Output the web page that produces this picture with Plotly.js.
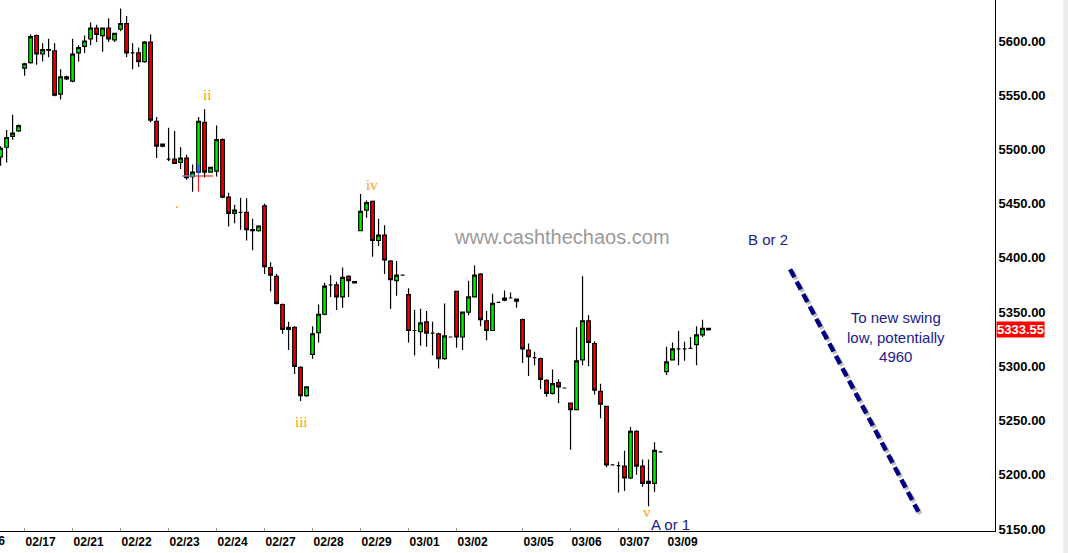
<!DOCTYPE html>
<html>
<head>
<meta charset="utf-8">
<script src="https://cdn.plot.ly/plotly-3.0.1.min.js"></script>
<style>
  html, body { margin: 0; padding: 0; background: #ffffff; overflow: hidden; }
  #chart { width: 1068px; height: 553px; }
</style>
</head>
<body>
<div id="chart"></div>
<script>
// Nifty hourly bars, mid-Feb to 9 Mar 2012
const sessionDays   = ['02/16','02/17','02/21','02/22','02/23','02/24','02/27','02/28','02/29','03/01','03/02','03/03','03/05','03/06','03/07','03/09'];
const sessionBars   = [4, 8, 8, 8, 8, 8, 8, 8, 8, 8, 8, 3, 8, 8, 8, 8];
const unlabelledDays = ['03/03'];
const BARS_PER_SESSION = 8;

const open = [
  5493,5502,5512,5517,
  5575,5580,5605,5588,5592,5591,5551,5567,
  5563,5589,5595,5602,5612,5605,5612,5601,
  5611,5616,5589,5589,5581,5599,5526,5503,
  5491,5491,5488,5492,5475,5479,5525,5479,
  5480,5509,5456,5441,5442,5442,5426,5425,
  5448,5391,5383,5357,5334,5336,5299,5273,
  5311,5331,5348,5375,5375,5364,5383,5378,
  5425,5444,5452,5416,5421,5397,5379,5384,
  5366,5333,5332,5341,5330.5,5330,5307,5327,
  5369,5327,5350,5364,5385,5342,5333,5359,
  5361,5363,5362,
  5343,5315,5308,5307,5287,5275,5285,5280,
  5266,5260,5306,5342,5321,5277,5263,5209,
  5208.4,5208,5197,5240,5208,5192,5192,5221,
  5295,5306,5316,5316,5316.5,5320,5329,5335
];
const high = [
  5503,5518,5532,5523,
  5580,5606,5606,5598,5602,5598,5574,5568,
  5602,5596,5605,5617,5615,5612,5621,5607,
  5630,5623,5598,5594,5600,5606,5530,5505,
  5520,5517,5502,5495,5486,5530,5537,5484,
  5522,5510,5460,5449,5455.5,5455,5436,5430,
  5450,5396,5385,5358,5341,5337,5300,5281,
  5337,5357,5377,5384,5378,5391,5384,5378,
  5459,5453,5453,5436,5430,5398,5397,5384,
  5372,5352,5353,5351,5341,5331,5358,5327,
  5369,5350,5379,5393,5386,5351,5367,5359,
  5370,5368,5362,
  5344,5321,5313.5,5308,5288,5297,5288,5280,
  5266,5336,5383,5347,5323,5284,5263,5209,
  5212,5222,5244,5241,5214,5214,5230,5221,
  5318,5322,5332.6,5322.7,5327,5337,5343,5335
];
const low = [
  5485,5488,5509,5516,
  5568,5579,5578,5581,5585,5549,5546,5564,
  5562,5581,5589,5596,5599,5590,5599,5599,
  5609,5585,5574,5576,5580,5525,5492,5502,
  5489,5486.5,5482,5472,5461,5478,5474,5479,
  5475,5455,5429,5432,5426,5416,5407,5424,
  5385,5369,5357,5330,5315,5293,5268,5272,
  5307,5322,5347,5364,5352,5354,5364,5377,
  5425,5437,5401,5411,5385,5353,5365,5384,
  5322,5310,5319,5318,5310,5298,5306,5327,
  5317,5315,5347,5364,5337,5324,5333,5359,
  5360,5363,5354,
  5303,5291,5301,5279,5272,5274,5266,5280,
  5223,5260,5301,5300,5274,5252,5207,5209,
  5183.5,5185,5196,5200,5189,5171,5184,5221,
  5292,5306,5301,5305,5316,5301,5327,5333
];
const close = [
  5501,5511,5515,5522,
  5579,5604,5588,5592,5591.5,5550,5567,5565,
  5588,5594,5600,5612,5606,5612,5602,5607,
  5616,5589,5589,5581,5599,5527,5503,5505,
  5491,5487,5492,5474,5479,5526,5479,5483.5,
  5509,5456,5441,5444,5442,5426,5425,5429.4,
  5392,5384,5358,5334,5336,5300,5273,5281,
  5330,5348,5374,5375,5364,5382,5379,5377,
  5443,5451,5416,5421,5398,5380,5384,5384,
  5333,5333,5340,5330.5,5330.5,5307,5328,5327,
  5327,5350,5364,5384,5343,5333,5358,5359,
  5363,5363,5360,
  5316,5309,5308,5288,5275,5284,5281,5280,
  5260,5305,5342,5322,5278,5265,5209,5209,
  5208.4,5197,5240,5208,5192,5194,5222.5,5221,
  5304,5316,5316,5316,5316.5,5329,5335,5333.55
];

const priceTicks = [5150, 5200, 5250, 5300, 5350, 5400, 5450, 5500, 5550, 5600];

// ---- bar index positions and session start ticks ----
const barIndex = open.map((_, i) => i);
const sessionStart = [];
let acc = 0;
sessionBars.forEach((n, k) => {
  // the first session is only partly on screen
  sessionStart.push(k === 0 ? n - BARS_PER_SESSION : acc);
  acc += n;
});

const X_RANGE = [-0.1, 165.75];
const Y_RANGE = [5148.1, 5637.8];

const tickVals = [], tickText = [];
sessionDays.forEach((d, k) => {
  if (sessionStart[k] >= X_RANGE[0] && unlabelledDays.indexOf(d) < 0) {
    tickVals.push(sessionStart[k]);
    tickText.push(d);
  }
});

const lastClose = close[close.length - 1];

const tickFont = { family: 'Liberation Sans, Arial, sans-serif', size: 12, color: '#000000', weight: 'bold' };
const waveFont = { family: 'Liberation Serif, Times New Roman, serif', size: 15, color: '#ffa000' };
const noteFont = { family: 'Liberation Sans, Arial, sans-serif', size: 15, color: '#20208c' };

const candles = {
  type: 'candlestick',
  x: barIndex,
  open: open, high: high, low: low, close: close,
  increasing: { line: { color: '#000000', width: 1.2 }, fillcolor: '#00f000' },
  decreasing: { line: { color: '#000000', width: 1.2 }, fillcolor: '#f00000' },
  whiskerwidth: 0,
  hoverinfo: 'skip',
  showlegend: false
};

// paper x for a bar index (used for the clipped first date label)
const toPaperX = idx => (idx - X_RANGE[0]) / (X_RANGE[1] - X_RANGE[0]);

const annotations = [
  // clipped date label of the first, partly visible session
  { xref: 'paper', yref: 'paper', x: toPaperX(sessionStart[0]), y: 0, xanchor: 'left', yanchor: 'top',
    xshift: -4, yshift: -1, text: sessionDays[0], showarrow: false, font: tickFont },
  // wave counts
  { x: 34.4,  y: 5550,   text: 'ii',  showarrow: false, font: waveFont },
  { x: 29.4,  y: 5451,   text: '.',   showarrow: false, font: waveFont },
  { x: 50.1,  y: 5248.7, text: 'iii', showarrow: false, font: waveFont },
  { x: 61.9,  y: 5467.2, text: 'iv',  showarrow: false, font: waveFont },
  { x: 107.8, y: 5165.5, text: 'v',   showarrow: false, font: waveFont },
  { x: 111.6, y: 5154,   text: 'A or 1', showarrow: false, font: noteFont },
  { x: 127.9, y: 5416.5, text: 'B or 2', showarrow: false, font: noteFont },
  { x: 149.3, y: 5327,   text: 'To new swing<br>low, potentially<br>4960', showarrow: false,
    font: noteFont, align: 'center' },
  // watermark
  { x: 93.5, y: 5419.5, text: 'www.cashthechaos.com', showarrow: false,
    font: { family: 'Liberation Sans, Arial, sans-serif', size: 20, color: '#9a9a9a' } },
  // last price tag on the price scale
  { xref: 'paper', x: 1, xanchor: 'left', xshift: 1, y: lastClose, yanchor: 'middle',
    text: lastClose.toFixed(2), showarrow: false, bgcolor: '#ff0000', borderpad: 0,
    font: { family: 'Liberation Sans, Arial, sans-serif', size: 13, color: '#ffffff', weight: 'bold' } }
];

// projected decline from the B/2 high
const proj = { x0: 131.6, y0: 5389.5, x1: 152.97, y1: 5165.9 };
const shapes = [
  { type: 'line', xref: 'x', yref: 'y', x0: proj.x0 + 0.35, y0: proj.y0 - 2, x1: proj.x1 + 0.35, y1: proj.y1 - 2,
    line: { color: 'rgba(140,140,140,0.55)', width: 4.5, dash: '9px,5px' } },
  { type: 'line', xref: 'x', yref: 'y', x0: proj.x0, y0: proj.y0, x1: proj.x1, y1: proj.y1,
    line: { color: '#000080', width: 4.5, dash: '9px,5px' } },
  // cursor cross marks around the 02/23 lows
  { type: 'line', xref: 'x', yref: 'y', x0: 30.25, y0: 5475.5, x1: 35.4, y1: 5475.5,
    line: { color: '#ff0000', width: 1 } },
  { type: 'line', xref: 'x', yref: 'y', x0: 30.25, y0: 5475.5, x1: 32.4, y1: 5475.5,
    line: { color: '#33ccff', width: 1 } },
  { type: 'line', xref: 'x', yref: 'y', x0: 32.97, y0: 5475.5, x1: 32.97, y1: 5461,
    line: { color: '#ff0000', width: 1 } },
  { type: 'line', xref: 'x', yref: 'y', x0: 32.97, y0: 5486, x1: 32.97, y1: 5475.5,
    line: { color: '#2255ff', width: 1 } },
  // window edge
  { type: 'rect', xref: 'paper', yref: 'paper', x0: 1.0685, x1: 1.08, y0: -0.05, y1: 1,
    line: { width: 0 }, fillcolor: '#ececec', layer: 'below' }
];

const layout = {
  width: 1068,
  height: 553,
  margin: { l: 0, r: 73, t: 0, b: 22, pad: 0 },
  paper_bgcolor: '#ffffff',
  plot_bgcolor: '#ffffff',
  showlegend: false,
  dragmode: false,
  boxgap: 0.12,
  xaxis: {
    type: 'linear',
    range: X_RANGE,
    rangeslider: { visible: false },
    showgrid: false,
    zeroline: false,
    showline: true,
    linecolor: '#000000',
    linewidth: 1,
    tickmode: 'array',
    tickvals: tickVals,
    ticktext: tickText,
    ticks: 'inside',
    ticklen: 3,
    tickcolor: '#9a9a9a',
    ticklabelposition: 'outside right',
    tickfont: tickFont,
    fixedrange: true
  },
  yaxis: {
    side: 'right',
    range: Y_RANGE,
    tickmode: 'array',
    tickvals: priceTicks,
    tickformat: '.2f',
    showgrid: false,
    zeroline: false,
    showline: true,
    linecolor: '#000000',
    linewidth: 1,
    ticks: '',
    tickfont: Object.assign({}, tickFont, { size: 13 }),
    fixedrange: true
  },
  annotations: annotations,
  shapes: shapes
};

Plotly.newPlot('chart', [candles], layout, { displayModeBar: false, staticPlot: true });
</script>
</body>
</html>
